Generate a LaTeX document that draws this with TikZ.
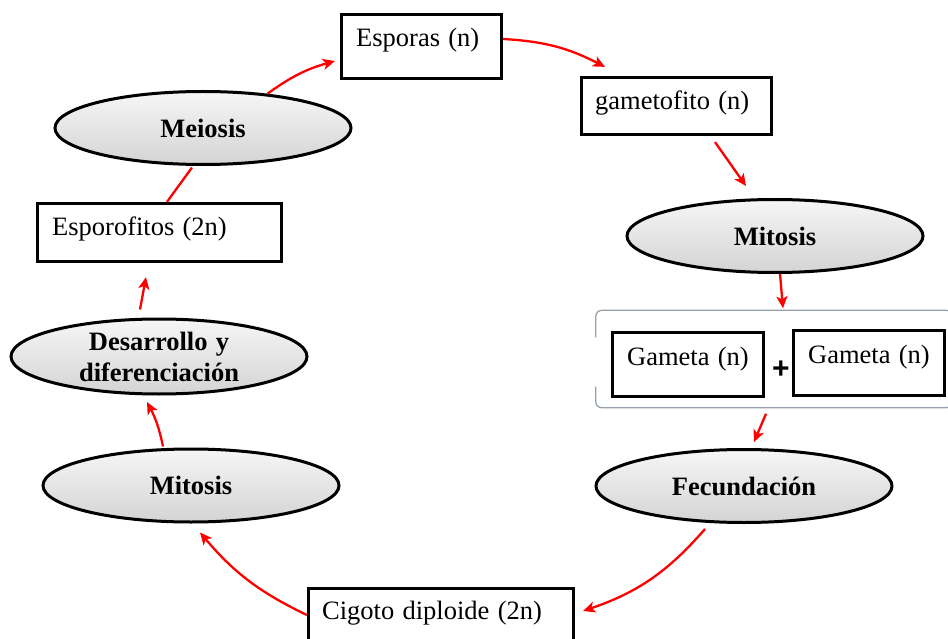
\documentclass[tikz,border=0pt]{standalone}
\usepackage{fontspec}
\setmainfont{Liberation Serif}[WordSpace=1.25]
\newfontfamily\plusfont{Liberation Sans}
\usetikzlibrary{shapes.geometric,arrows.meta}
\definecolor{contgray}{RGB}{150,160,170}
\definecolor{ellTop}{RGB}{246,246,246}
\definecolor{ellBot}{RGB}{212,212,212}
\tikzset{
  stagebox/.style={draw, line width=3.2pt, rectangle, inner sep=0pt},
  phase/.style={draw, line width=3pt, ellipse, inner sep=0pt, top color=ellTop, bottom color=ellBot,
    minimum width=296pt, minimum height=73pt, align=center, font=\fontsize{26.5}{31}\selectfont\bfseries},
  lbl/.style={anchor=base west, inner sep=0pt, font=\fontsize{26.5}{31}\selectfont},
  arr/.style={draw=red, line width=2.3pt, -{Stealth[length=12pt,width=11pt,inset=3pt]}},
  lin/.style={draw=red, line width=2.3pt},
  gbr/.style={draw=contgray, line width=1.3pt, rounded corners=6pt}
}
\begin{document}
\begin{tikzpicture}[x=1pt,y=-1pt]
\useasboundingbox (0,0) rectangle (948,639);
% boxes
\node[stagebox, minimum width=160pt, minimum height=64pt] (esp) at (421.5,46.5) {};
\node[lbl] (tesp) at (356,47) {Esporas (n)};
\node[stagebox, minimum width=190pt, minimum height=57pt] (gam) at (676.5,106) {};
\node[lbl] (tgam) at (595,110) {gametofito (n)};
\node[stagebox, minimum width=244pt, minimum height=58pt] (espf) at (159.5,232.5) {};
\node[lbl] (tespf) at (52,236) {Esporofitos (2n)};
\node[stagebox, minimum width=265pt, minimum height=65pt] (cig) at (441,621) {};
\node[lbl] (tcig) at (322,619) {Cigoto diploide (2n)};
% gamete container
\node[rectangle, inner sep=0pt, minimum width=356pt, minimum height=97pt] (gbox) at (774,359) {};
\draw[gbr] ([yshift=-27pt]gbox.north west) -- (gbox.north west) -- (gbox.north east)
  -- (gbox.south east) -- (gbox.south west) -- ([yshift=21pt]gbox.south west);
\node[stagebox, minimum width=151pt, minimum height=64pt] (g1) at (688,364.5) {};
\node[lbl] (tg1) at (627,365) {Gameta (n)};
\node[stagebox, minimum width=151pt, minimum height=65pt] (g2) at (869,363) {};
\node[lbl] (tg2) at (808,363) {Gameta (n)};
\node[inner sep=0pt, font=\plusfont\bfseries\fontsize{30}{30}\selectfont] (plus) at (781,370) {+};
% ellipses
\node[phase] (mei) at (203,128) {Meiosis};
\node[phase] (mitR) at (775,236) {Mitosis};
\node[phase, minimum height=75pt] (des) at (159,356.5) {Desarrollo y\\diferenciación};
\node[phase] (mitL) at (191,485.5) {Mitosis};
\node[phase] (fec) at (744,486) {Fecundación};
% connectors
\draw[arr] (mei.28) to[bend left=10] ([xshift=-5pt,yshift=-14.5pt]esp.west);
\draw[arr] ([yshift=7.5pt]esp.east) to[bend left=12] ([xshift=-71.5pt,yshift=9pt]gam.north);
\draw[arr] ([xshift=38.5pt,yshift=-6pt]gam.south) -- ([xshift=-29pt,yshift=12pt]mitR.north);
\draw[arr] ([xshift=5pt]mitR.south) -- ([xshift=9pt,yshift=2pt]gbox.north);
\draw[arr] ([xshift=-8pt,yshift=-6pt]gbox.south) -- ([xshift=10pt,yshift=6pt]fec.north);
\draw[arr] ([xshift=-39pt,yshift=-5pt]fec.south) to[bend left=15] ([xshift=8pt,yshift=10pt]cig.east);
\draw[arr] ([yshift=6pt]cig.west) to[bend left=12] ([xshift=9pt,yshift=-9pt]mitL.south);
\draw[arr] ([xshift=-28pt,yshift=1pt]mitL.north) to[bend right=8] ([xshift=-12pt,yshift=-6.5pt]des.south);
\draw[arr] ([xshift=-19pt,yshift=8pt]des.north) -- ([xshift=-13.5pt,yshift=-14pt]espf.south);
\draw[lin] ([xshift=7.5pt]espf.north) -- ([xshift=-11pt,yshift=-1.5pt]mei.south);
\end{tikzpicture}
\end{document}
